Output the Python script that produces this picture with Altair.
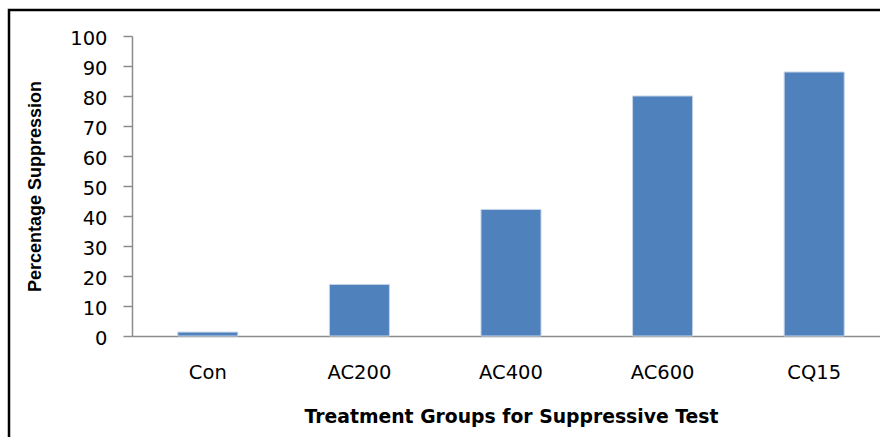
import altair as alt
import pandas as pd

groups = ["Con", "AC200", "AC400", "AC600", "CQ15"]
suppression = [1.3, 17.2, 42.2, 80.0, 88.0]
y_ticks = [0, 10, 20, 30, 40, 50, 60, 70, 80, 90, 100]

df = pd.DataFrame({"group": groups, "value": suppression})

bars = alt.Chart(df).mark_bar(color="#4F81BD", stroke="#C6D4E8", strokeWidth=1).encode(
    x=alt.X(
        "group:N",
        sort=groups,
        scale=alt.Scale(range=[0, 758], paddingInner=0.604, paddingOuter=0.302),
        axis=alt.Axis(
            title="Treatment Groups for Suppressive Test",
            titleFont="DejaVu Sans",
            titleFontSize=18.8,
            titleFontWeight="bold",
            titleColor="#000000",
            titleX=379,
            titleY=86,
            titleBaseline="alphabetic",
            labelFont="DejaVu Sans",
            labelFontSize=19.5,
            labelColor="#000000",
            labelAngle=0,
            labelBaseline="alphabetic",
            labelPadding=42,
            ticks=False,
            domainColor="#8C8C8C",
            domainWidth=1.5,
        ),
    ),
    y=alt.Y(
        "value:Q",
        scale=alt.Scale(domain=[0, 100], nice=False),
        axis=alt.Axis(
            values=y_ticks,
            title="Percentage Suppression",
            titleFont="Liberation Sans",
            titleFontSize=18,
            titleFontWeight="bold",
            titleColor="#000000",
            titleAngle=-90,
            titleX=-97,
            titleY=150,
            titleAlign="center",
            titleBaseline="middle",
            labelFont="DejaVu Sans",
            labelFontSize=19.5,
            labelColor="#000000",
            labelPadding=16,
            labelOffset=2,
            tickSize=9,
            tickColor="#8C8C8C",
            tickWidth=1.5,
            domainColor="#8C8C8C",
            domainWidth=1.5,
            grid=False,
        ),
    ),
)

frame = alt.Chart(alt.Data(values=[{}])).mark_rect(
    fill=None, stroke="#000000", strokeWidth=2.5
).encode(
    x=alt.value(-123), y=alt.value(-26), x2=alt.value(1000), y2=alt.value(600)
)

chart = alt.layer(frame, bars).properties(
    width=748,
    height=300,
    autosize=alt.AutoSizeParams(type="none"),
    padding={"left": 132, "top": 36, "right": 0, "bottom": 101},
    background="#FFFFFF",
).configure_view(stroke=None)

chart.save("out.html", embed_options={"renderer": "svg", "actions": False})
